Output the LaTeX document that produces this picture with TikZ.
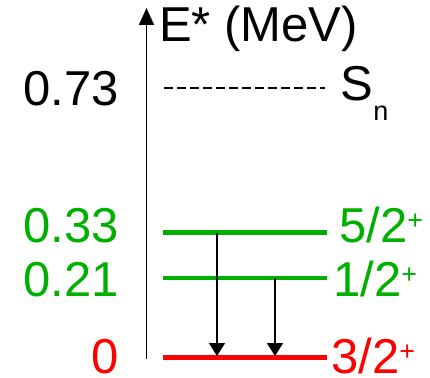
\documentclass[tikz,border=0pt]{standalone}
\usepackage{fontspec}
\setmainfont{Liberation Sans}
\usetikzlibrary{arrows.meta}
\definecolor{lvgreen}{RGB}{0,176,0}
\definecolor{lvred}{RGB}{255,0,0}
\newcommand{\supp}[1]{\raisebox{13pt}{\fontsize{27}{30}\selectfont #1}}
\newcommand{\subb}[1]{\raisebox{-20pt}{\fontsize{27}{30}\selectfont #1}}
\tikzset{
  lbl/.style={inner sep=0pt, font=\fontsize{49}{58}\selectfont},
  lvl/.style={line width=4.2pt},
  trans/.style={line width=1.6pt, -{Triangle[width=16pt,length=13pt]}},
}
\begin{document}
\begin{tikzpicture}[x=1pt,y=-1pt]
\useasboundingbox (0,0) rectangle (430,377);
% axis
\coordinate (axb) at (146.5,359);
\coordinate (axt) at (146.5,8);
\draw[line width=1.6pt, -{Triangle[width=15pt,length=17pt]}] (axb) -- (axt);
\node[lbl, anchor=base west] (etitle) at (159,42) {E* (MeV)};
% Sn
\coordinate (sna) at (164,88);
\coordinate (snb) at (325,88);
\draw[line width=1.2pt, dash pattern=on 9pt off 4pt] (sna) -- (snb);
\node[lbl, anchor=base east] (e073) at (119,106) {0.73};
\node[lbl, anchor=base west] (sn) at (340.5,100) {S\subb{n}};
% levels
\coordinate (l5a) at (163,232.5);
\coordinate (l5b) at (327,232.5);
\coordinate (l1a) at (163,278);
\coordinate (l1b) at (327,278);
\coordinate (l0a) at (163,357.5);
\coordinate (l0b) at (327,357.5);
\draw[lvl, lvgreen] (l5a) -- (l5b);
\draw[lvl, lvgreen] (l1a) -- (l1b);
\draw[lvl, lvred, line width=4.6pt] (l0a) -- (l0b);
% labels
\node[lbl, anchor=base east, text=lvgreen] (e033) at (119,242) {0.33};
\node[lbl, anchor=base east, text=lvgreen] (e021) at (119,296) {0.21};
\node[lbl, anchor=base east, text=lvred, text depth=0pt] (e000) at (119,373) {0};
\node[lbl, anchor=base west, text=lvgreen] (j52) at (339,242) {5/2\supp{+}};
\node[lbl, anchor=base west, text=lvgreen] (j12) at (333,296) {1/2\supp{+}};
\node[lbl, anchor=base west, text=lvred, text depth=0pt] (j32) at (331,373) {3/2\supp{+}};
% transitions
\coordinate (t1s) at (217,232.5);
\coordinate (t1e) at (217,356);
\coordinate (t2s) at (275,278);
\coordinate (t2e) at (275,356);
\draw[trans] (t1s) -- (t1e);
\draw[trans] (t2s) -- (t2e);
\end{tikzpicture}
\end{document}
